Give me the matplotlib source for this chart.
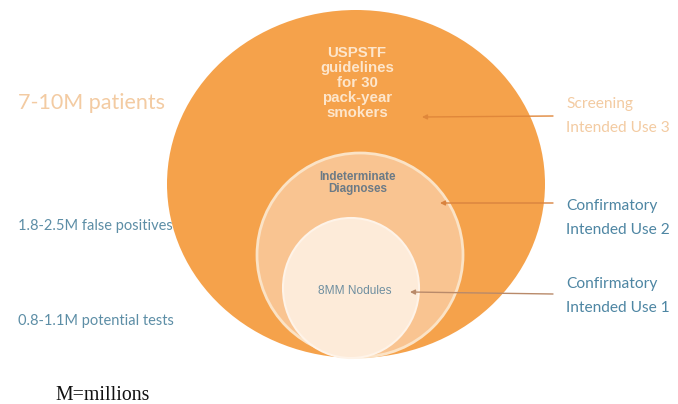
import matplotlib
matplotlib.use("Agg")
import matplotlib.pyplot as plt
from matplotlib.patches import Ellipse

# ---- content ----
circle_labels = ["USPSTF\nguidelines\nfor 30\npack-year\nsmokers", "Indeterminate\nDiagnoses", "8MM Nodules"]
left_labels = ["7-10M patients", "1.8-2.5M false positives", "0.8-1.1M potential tests"]
right_labels = ["Screening\nIntended Use 3", "Confirmatory\nIntended Use 2", "Confirmatory\nIntended Use 1"]
footnote = "M=millions"

W, H = 678, 404
fig = plt.figure(figsize=(W / 100, H / 100), dpi=100)
ax = fig.add_axes([0, 0, 1, 1])
ax.set_xlim(0, W)
ax.set_ylim(H, 0)
ax.axis("off")

# circles (outer -> inner)
circles = [
    dict(c=(356, 184), w=378, h=348, fc="#F5A24B", ec="#F5A24B", lw=0),
    dict(c=(360, 255), w=206, h=204, fc="#F9C491", ec="#FBE3C6", lw=2.0),
    dict(c=(351, 288), w=136, h=140, fc="#FDEBD9", ec="#FEF3E8", lw=1.5),
]
for i, c in enumerate(circles):
    ax.add_patch(Ellipse(c["c"], c["w"], c["h"], facecolor=c["fc"],
                         edgecolor=c["ec"], linewidth=c["lw"], zorder=1 + i))

ff = ["Lato", "DejaVu Sans"]

# text inside circles
ax.text(357, 83, circle_labels[0], ha="center", va="center", color="#FDE6CC",
        fontsize=10.8, fontweight="bold", family=["Liberation Sans"], linespacing=1.1, zorder=10)
ax.text(358, 183, circle_labels[1], ha="center", va="center", color="#6B7A86",
        fontsize=8.4, fontweight="bold", family=["Liberation Sans"], linespacing=1.05, zorder=10)
ax.text(355, 291, circle_labels[2], ha="center", va="center", color="#6F8FA0",
        fontsize=8.6, family=["Liberation Sans"], zorder=10)

# left texts
left_pos = [(18, 103), (18, 226), (18, 321)]
left_cols = ["#F3CBA2", "#5D8EA6", "#5D8EA6"]
left_sizes = [15.5, 10.5, 10.5]
for t, (x, y), col, s in zip(left_labels, left_pos, left_cols, left_sizes):
    ax.text(x, y, t, ha="left", va="center", color=col, fontsize=s, family=ff, zorder=10)

# right texts
right_pos = [(566, 116), (566, 218), (566, 296)]
right_cols = ["#F3CBA2", "#4E86A3", "#4E86A3"]
for t, (x, y), col in zip(right_labels, right_pos, right_cols):
    ax.text(x, y, t, ha="left", va="center", color=col, fontsize=11.2,
            family=ff, linespacing=1.85, zorder=10)

# arrows
arrows = [((553, 116), (422, 117), "#E0873A"),
          ((553, 203), (440, 203), "#D9833F"),
          ((553, 294), (410, 292), "#B98A6A")]
for (x0, y0), (x1, y1), col in arrows:
    ax.annotate("", xy=(x1, y1), xytext=(x0, y0),
                arrowprops=dict(arrowstyle="-|>", color=col, lw=1.0,
                                mutation_scale=7, shrinkA=0, shrinkB=0), zorder=9)

# footnote
ax.text(55, 396, footnote, ha="left", va="center", color="#111111",
        fontsize=14.3, family=["Liberation Serif"], zorder=10)

fig.savefig("out.png", dpi=100)
